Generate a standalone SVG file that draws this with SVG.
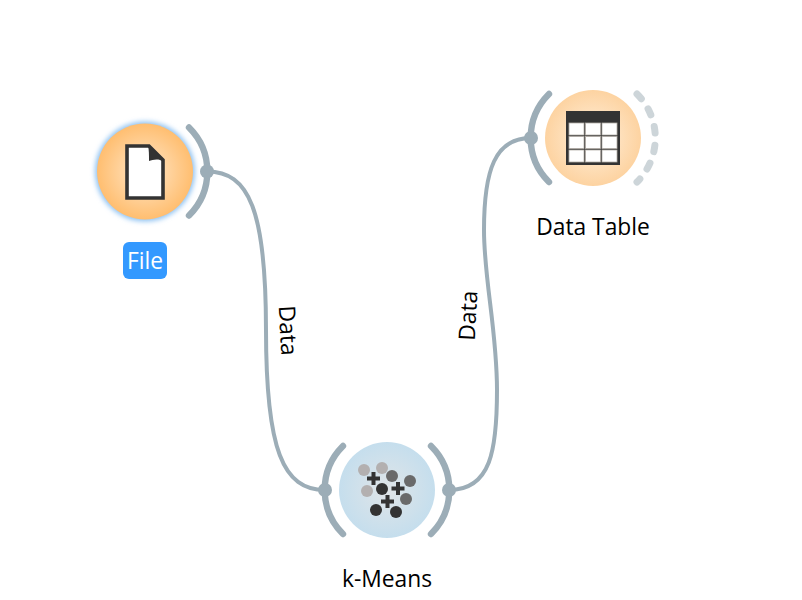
<svg xmlns="http://www.w3.org/2000/svg" width="802" height="600" viewBox="0 0 802 600">
<style>
text{font-family:"Open Sans","Noto Sans","DejaVu Sans",sans-serif;font-size:22.8px;fill:#000;text-anchor:middle}
.chan{fill:none;stroke:#9cadb7;stroke-width:6.400;stroke-linecap:round}
.dash{fill:none;stroke:#cdd5d9;stroke-width:7;stroke-linecap:round;stroke-dasharray:6.500 12.180}
.link{fill:none;stroke:#9cadb7;stroke-width:4}
.anc{fill:#9cadb7}
.ink{fill:#333}
</style>
<defs>
<radialGradient id="orange"><stop offset="0" stop-color="#ffe8cc"/><stop offset="1" stop-color="#ffbe70"/></radialGradient>
<radialGradient id="orangeL"><stop offset="0" stop-color="#fff0dd"/><stop offset="1" stop-color="#fdd3a1"/></radialGradient>
<radialGradient id="blue"><stop offset="0" stop-color="#e0e5e8"/><stop offset="1" stop-color="#c5deed"/></radialGradient>
<filter id="glow" x="-30%" y="-30%" width="160%" height="160%"><feGaussianBlur stdDeviation="2.800"/></filter>
</defs>
<g id="connectors">
<path class="link" d="M207 171.500C249 171.500 266 210 266 330C266 450 283 490 325 490"/>
<path class="link" d="M449 490C491 490 497 450 497 390C497 330 484 280 484 230C484 170 495 138 531 138"/>
<text transform="translate(280 331) rotate(87)">Data</text>
<text transform="translate(476 316) rotate(-87)">Data</text>
</g>
<g id="node-file">
<circle cx="145" cy="171.500" r="50" fill="#8fc2f2" filter="url(#glow)"/>
<circle cx="145" cy="171.500" r="48" fill="url(#orange)"/>
<path d="M127 146H149L163 160V198H127Z" fill="#fff" stroke="#333" stroke-width="3.600"/>
<path class="ink" d="M148 145L164 160V162C158 158 153 160 149 161C149 155 149 150 148 145Z"/>
<path class="chan" d="M189 127.500A62 62 0 0 1 189 215.500"/>
<circle class="anc" cx="207" cy="171.500" r="7"/>
<rect x="123" y="242" width="44" height="37" rx="6" fill="#3399ff"/>
<text x="145" y="269" style="fill:#fff">File</text>
</g>
<g id="node-kmeans">
<circle cx="387" cy="490" r="48" fill="url(#blue)"/>
<circle cx="364" cy="470" r="6" fill="#b3b0b0"/>
<circle cx="382" cy="468" r="6" fill="#b3b0b0"/>
<circle cx="392" cy="476" r="6" fill="#6a6a6a"/>
<circle cx="410" cy="481" r="6" fill="#6a6a6a"/>
<circle cx="367" cy="491" r="6" fill="#b3b0b0"/>
<circle cx="382" cy="489" r="6" fill="#333"/>
<circle cx="406" cy="499" r="6" fill="#6a6a6a"/>
<circle cx="376" cy="510" r="6" fill="#333"/>
<circle cx="396" cy="512" r="6" fill="#333"/>
<path class="ink" d="M371.500 472h4v4.500h4.500v4h-4.500v4.500h-4v-4.500h-4.500v-4h4.500z"/>
<path class="ink" d="M396 482h4v4.500h4.500v4h-4.500v4.500h-4v-4.500h-4.500v-4h4.500z"/>
<path class="ink" d="M385.500 495h4v4.500h4.500v4h-4.500v4.500h-4v-4.500h-4.500v-4h4.500z"/>
<path class="chan" d="M343 446A62 62 0 0 0 343 534"/>
<path class="chan" d="M431 446A62 62 0 0 1 431 534"/>
<circle class="anc" cx="325" cy="490" r="7"/>
<circle class="anc" cx="449" cy="490" r="7"/>
<text x="387" y="587">k-Means</text>
</g>
<g id="node-table">
<circle cx="593" cy="138" r="48" fill="url(#orangeL)"/>
<rect x="566" y="111" width="54" height="54" fill="#333"/>
<g fill="#fff" stroke="#b5afa8" stroke-width="0.800">
<rect x="569" y="123" width="15" height="12"/><rect x="585.500" y="123" width="15" height="12"/><rect x="602" y="123" width="15" height="12"/>
<rect x="569" y="136.500" width="15" height="12"/><rect x="585.500" y="136.500" width="15" height="12"/><rect x="602" y="136.500" width="15" height="12"/>
<rect x="569" y="150" width="15" height="12"/><rect x="585.500" y="150" width="15" height="12"/><rect x="602" y="150" width="15" height="12"/>
</g>
<path class="chan" d="M549 94A62 62 0 0 0 549 182"/>
<path class="dash" d="M637 94A62 62 0 0 1 637 182"/>
<circle class="anc" cx="531" cy="138" r="7"/>
<text x="593" y="235">Data Table</text>
</g>
</svg>
